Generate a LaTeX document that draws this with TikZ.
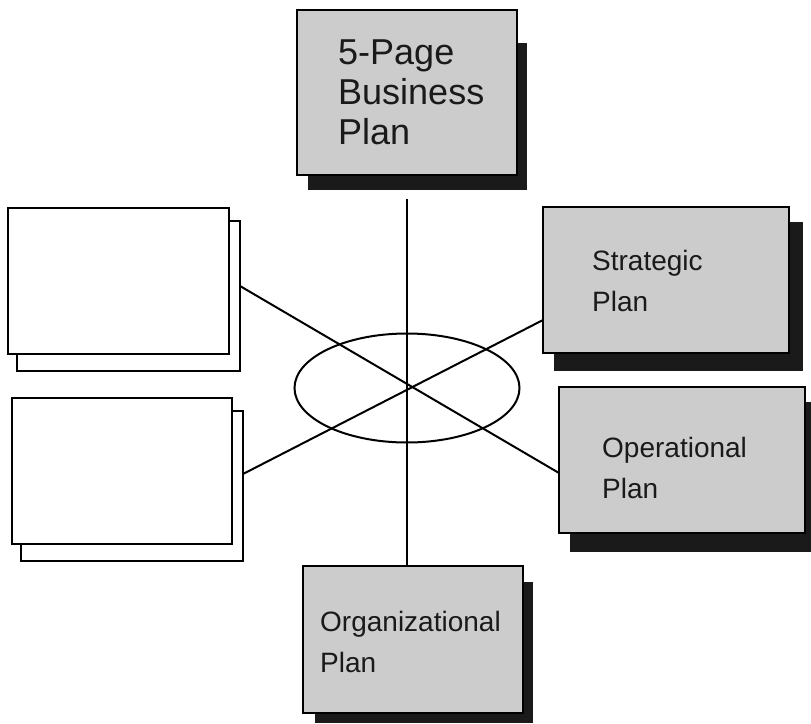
\documentclass[tikz,border=0pt]{standalone}
\usepackage{fontspec}
\setmainfont{Liberation Sans}
\usetikzlibrary{shapes.geometric}
\definecolor{boxgray}{HTML}{CCCCCC}
\definecolor{shade}{HTML}{1A1A1A}
\tikzset{
  gbox/.style={draw=black, fill=boxgray, line width=2.4pt, rectangle, inner sep=0pt, outer sep=0pt, anchor=north west},
  wbox/.style={draw=black, fill=white, line width=2.6pt, rectangle, inner sep=0pt, outer sep=0pt, anchor=north west},
  shadowbox/.style={fill=shade, draw=none, rectangle, inner sep=0pt, outer sep=0pt, anchor=north west},
  conn/.style={draw=black, line width=2pt},
  big/.style={anchor=base west, align=left, inner sep=0pt, font=\fontsize{36}{40}\selectfont, text=shade},
  lbl/.style={anchor=base west, align=left, inner sep=0pt, font=\fontsize{28}{40.5}\selectfont, text=shade},
}
\begin{document}
\begin{tikzpicture}[x=1pt,y=-1pt]
\useasboundingbox[fill=white] (0,0) rectangle (811,723);

% top box
\node[shadowbox, minimum width=219, minimum height=147] (topsh) at (308,43) {};
\node[gbox, minimum width=220, minimum height=165] (top) at (297,10) {};
\node[big] (toptxt) at (338,144) {5-Page\\Business\\Plan};

% left boxes
\node[wbox, minimum width=223, minimum height=150] (ulback) at (17,221) {};
\node[wbox, minimum width=221, minimum height=146] (ul) at (8,208) {};
\node[wbox, minimum width=222, minimum height=150] (llback) at (21,411) {};
\node[wbox, minimum width=220, minimum height=146] (ll) at (12,398) {};

% strategic
\node[shadowbox, minimum width=249, minimum height=149] (strsh) at (554,222) {};
\node[gbox, minimum width=246, minimum height=146] (str) at (543,207) {};
\node[lbl] (strtxt) at (592,311) {Strategic\\Plan};

% operational
\node[shadowbox, minimum width=241, minimum height=150] (opsh) at (570,402) {};
\node[gbox, minimum width=246, minimum height=146] (op) at (559,387) {};
\node[lbl] (optxt) at (602,498) {Operational\\Plan};

% organizational
\node[shadowbox, minimum width=218, minimum height=141] (orgsh) at (315,582) {};
\node[gbox, minimum width=220, minimum height=147] (org) at (303,566) {};
\node[lbl] (orgtxt) at (320,672) {Organizational\\Plan};

% hub ellipse
\node[ellipse, draw=black, line width=2pt, minimum width=225, minimum height=109, inner sep=0pt] (hub) at (407,388) {};

% connectors
\coordinate (vtop) at (407,199);
\draw[conn] (vtop) -- (vtop |- org.north);
\draw[conn] ([yshift=10pt]ulback.east) -- ([yshift=-13pt]op.west);
\draw[conn] ([yshift=12pt]llback.east) -- ([yshift=-40pt]str.west);
\end{tikzpicture}
\end{document}
